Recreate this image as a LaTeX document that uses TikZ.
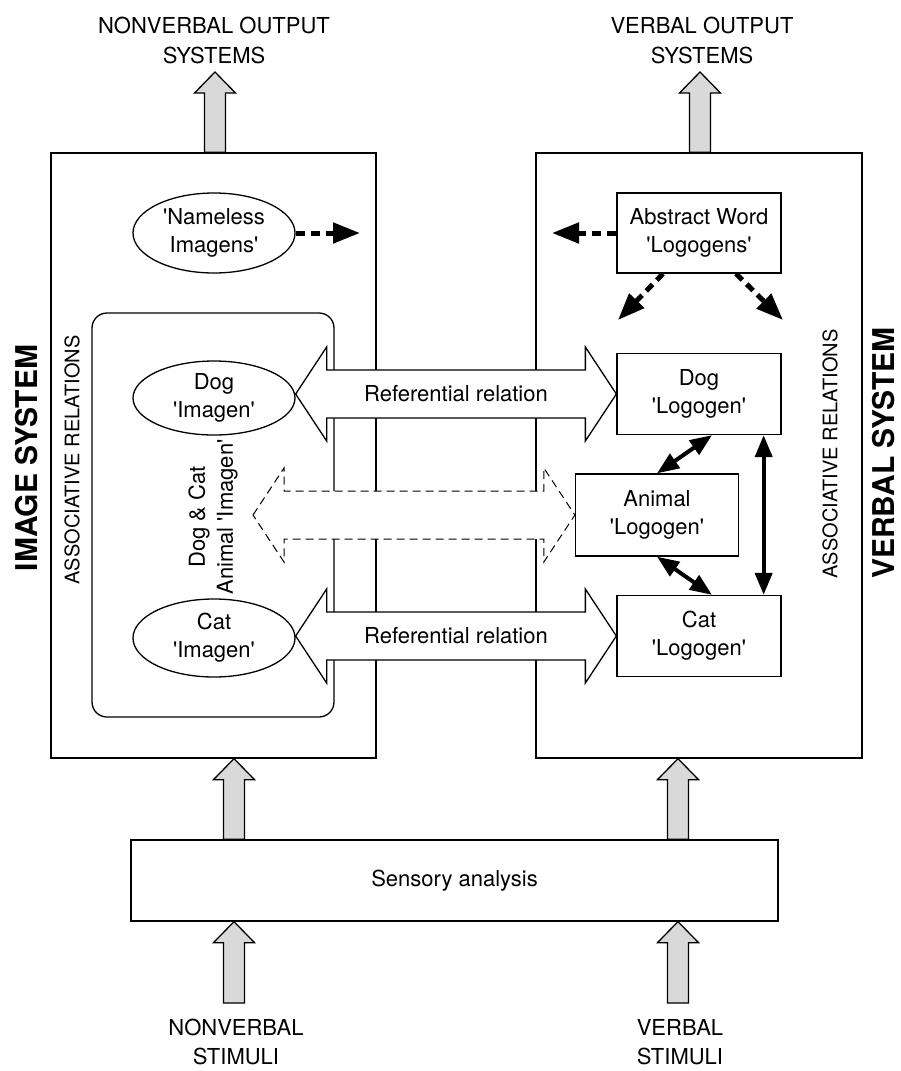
\documentclass[tikz,border=0pt]{standalone}
\usepackage{fontspec}
\setmainfont{TeX Gyre Heros}
\usetikzlibrary{arrows.meta,calc,shapes.geometric}

\newcommand{\sq}{\textquotesingle}
% block arrow pointing up, from base #1 to tip #2
\newcommand{\uparr}[2]{%
  \draw[ioarrow] let \p1=(#1), \p2=(#2) in
    (\x1-10.5pt,\y1) -- (\x1-10.5pt,\y2-21pt) -- (\x1-20.5pt,\y2-21pt) -- (\x1,\y2)
    -- (\x1+20.5pt,\y2-21pt) -- (\x1+10.5pt,\y2-21pt) -- (\x1+10.5pt,\y1) -- cycle;}
% double block arrow, left tip #2, right tip #3
\newcommand{\refarr}[3][]{%
  \draw[refarrow,#1] let \p1=(#2), \p2=(#3) in
    (\x1,\y2) -- (\x1+31pt,\y2+47pt) -- (\x1+31pt,\y2+24pt) -- (\x2-31pt,\y2+24pt)
    -- (\x2-31pt,\y2+47pt) -- (\x2,\y2) -- (\x2-31pt,\y2-47pt) -- (\x2-31pt,\y2-24pt)
    -- (\x1+31pt,\y2-24pt) -- (\x1+31pt,\y2-47pt) -- cycle;}

\tikzset{
  every node/.style={font=\fontsize{22}{28}\selectfont, align=center, inner sep=0pt},
  box/.style={draw, line width=1.3pt, fill=white},
  imagen/.style={draw, ellipse, line width=1.3pt, minimum width=162pt},
  refarrow/.style={draw, line width=1.3pt, fill=white},
  ioarrow/.style={draw, line width=1.3pt, fill=gray!30},
  dasharrow/.style={line width=5pt, dash pattern=on 9pt off 6pt, -{Triangle[length=27pt,width=20pt]}},
  assocarrow/.style={line width=4pt, {Triangle[length=22pt,width=17pt]}-{Triangle[length=22pt,width=17pt]}},
}

\begin{document}
\begin{tikzpicture}[x=1pt, y=-1pt]
	\useasboundingbox (0,0) rectangle (900,1071);
	% the two systems
	\node[box, minimum width=325pt, minimum height=605pt] (imgsys) at (213.5,455.5) {};
	\node[box, minimum width=326pt, minimum height=605pt] (verbsys) at (699,455.5) {};
	\node[draw, line width=1.3pt, rounded corners=15pt, minimum width=242pt, minimum height=404pt] (assoc) at (213,515) {};
	\node[box, minimum width=647pt, minimum height=81pt] (sensory) at (454.5,880.5) {Sensory analysis};
	\node[rotate=90, font=\bfseries\fontsize{30}{36}\selectfont] (imglabel) at (27,458) {IMAGE SYSTEM};
	\node[rotate=90, font=\fontsize{20}{24}\selectfont] (imgassoc) at (72,460) {ASSOCIATIVE RELATIONS};
	\node[rotate=90, font=\fontsize{20}{24}\selectfont] (verbassoc) at (830,454) {ASSOCIATIVE RELATIONS};
	\node[rotate=90, font=\bfseries\fontsize{30}{36}\selectfont] (verblabel) at (884,453) {VERBAL SYSTEM};
	% imagens
	\node[imagen, minimum height=80pt] (nameless) at (214,233) {\sq Nameless\\Imagens\sq};
	\node[imagen, minimum height=74pt] (dogimg) at (214,398) {Dog\\\sq Imagen\sq};
	\node[imagen, minimum height=78pt] (catimg) at (214,638) {Cat\\\sq Imagen\sq};
	\node[rotate=90] (animalimg) at (213,517) {Dog \& Cat\\Animal \sq Imagen\sq};
	% logogens
	\node[box, minimum width=164pt, minimum height=80pt] (abstract) at (699,233) {Abstract Word\\\sq Logogens\sq};
	\node[box, minimum width=164pt, minimum height=81pt] (doglogo) at (699,394) {Dog\\\sq Logogen\sq};
	\node[box, minimum width=163pt, minimum height=82pt] (animallogo) at (657,515) {Animal\\\sq Logogen\sq};
	\node[box, minimum width=164pt, minimum height=81pt] (catlogo) at (699,636) {Cat\\\sq Logogen\sq};
	% inputs and outputs
	\node[font=\fontsize{22}{30}\selectfont] (nvout) at (214,40) {NONVERBAL OUTPUT\\SYSTEMS};
	\node[font=\fontsize{22}{30}\selectfont] (vout) at (702,40) {VERBAL OUTPUT\\SYSTEMS};
	\node[font=\fontsize{22}{29}\selectfont] (nvstim) at (236,1042) {NONVERBAL\\STIMULI};
	\node[font=\fontsize{22}{29}\selectfont] (vstim) at (680,1042) {VERBAL\\STIMULI};
	\coordinate (nvtip) at (215,72);
	\coordinate (vtip) at (700,72);
	\coordinate (nvin) at (234,1003);
	\coordinate (vin) at (678,1003);
	\uparr{imgsys.north -| nvtip}{nvtip}
	\uparr{verbsys.north -| vtip}{vtip}
	\uparr{sensory.north -| nvin}{imgsys.south -| nvin}
	\uparr{sensory.north -| vin}{verbsys.south -| vin}
	\uparr{nvin}{sensory.south -| nvin}
	\uparr{vin}{sensory.south -| vin}
	% referential relations
	\refarr{dogimg.east}{doglogo.west}
	\refarr{catimg.east}{catlogo.west}
	\coordinate (animtip) at (253,516);
	\refarr[dash pattern=on 8pt off 5pt, line width=1pt]{animtip}{animallogo.west}
	\node (dogref) at (456,394) {Referential relation};
	\node (catref) at (456,636) {Referential relation};
	% dashed links
	\coordinate (namelessto) at (360,233);
	\coordinate (abstractto) at (552,233);
	\coordinate (abstractdl) at (618,320);
	\coordinate (abstractdr) at (783,320);
	\draw[dasharrow] (nameless.east) -- (namelessto);
	\draw[dasharrow] (abstract.west) -- (abstractto);
	\draw[dasharrow] ($(abstract.south)+(-36,0)$) -- (abstractdl);
	\draw[dasharrow] ($(abstract.south)+(37,0)$) -- (abstractdr);
	% associative links
	\draw[assocarrow] ($(doglogo.south)+(13,0)$) -- (animallogo.north);
	\draw[assocarrow] (animallogo.south) -- ($(catlogo.north)+(13,0)$);
	\draw[assocarrow] ($(doglogo.south east)+(-18,0)$) -- ($(catlogo.north east)+(-18,0)$);
\end{tikzpicture}
\end{document}
